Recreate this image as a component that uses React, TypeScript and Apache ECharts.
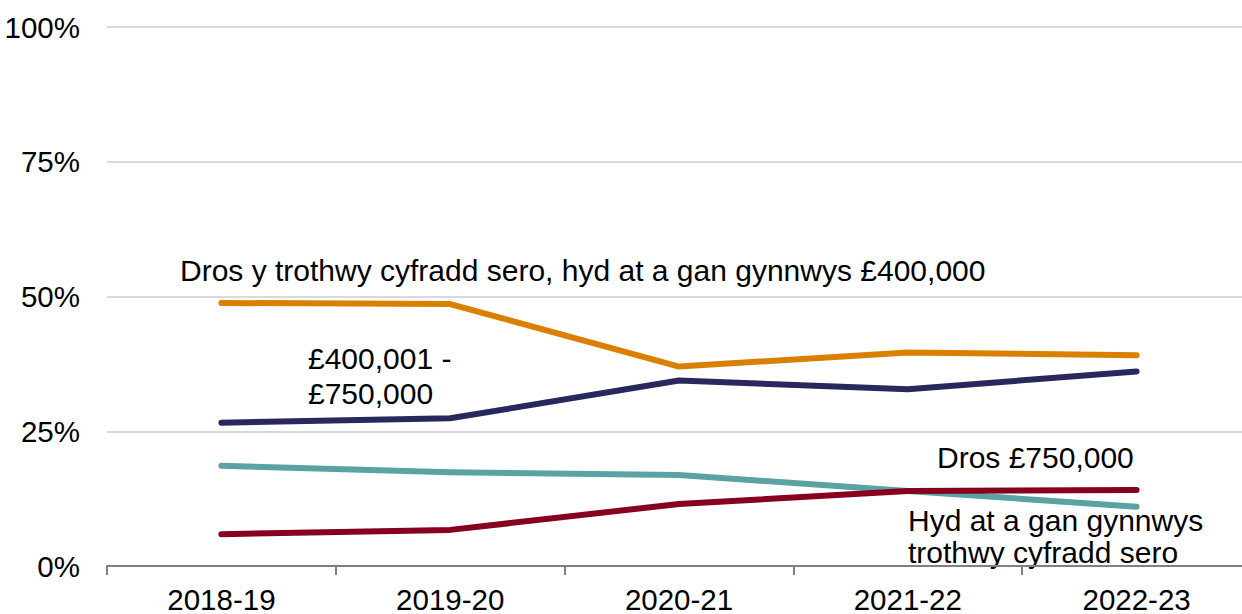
import React, { useEffect, useRef } from "react";
import * as echarts from "echarts";

const categories = ["2018-19", "2019-20", "2020-21", "2021-22", "2022-23"];
const yTicks = [0, 25, 50, 75, 100];
const overThresholdTo400k = [48.8, 48.6, 37.0, 39.6, 39.1];
const from400kTo750k = [26.6, 27.4, 34.4, 32.8, 36.1];
const upToThreshold = [18.6, 17.4, 16.9, 13.9, 11.0];
const over750k = [5.9, 6.7, 11.5, 13.9, 14.1];

const FONT = "'Liberation Sans', Arial, sans-serif";
const FS = 29.5;

export default function App() {
  const ref = useRef<HTMLDivElement>(null);
  useEffect(() => {
    if (!ref.current) return;
    const chart = echarts.init(ref.current, undefined, { renderer: "svg" });
    const mk = (name: string, data: number[], color: string) => ({
      name,
      type: "line",
      data,
      symbol: "none",
      lineStyle: { color, width: 6, cap: "round", join: "round" },
      itemStyle: { color },
    });
    const txt = (x: number, y: number, text: string, lh: number) => ({
      type: "text",
      x,
      y,
      style: {
        text,
        font: `30px ${FONT}`,
        fill: "#000",
        textVerticalAlign: "middle",
        lineHeight: lh,
      },
    });
    chart.setOption({
      animation: false,
      grid: { left: 107, top: 27, width: 1144, height: 540 },
      xAxis: {
        type: "category",
        data: categories,
        boundaryGap: true,
        axisLine: { lineStyle: { color: "#808080", width: 2 } },
        axisTick: { show: true, length: 9, lineStyle: { color: "#808080", width: 2 } },
        axisLabel: { color: "#000", fontSize: FS, fontFamily: FONT, margin: 18 },
        splitLine: { show: false },
      },
      yAxis: {
        type: "value",
        min: yTicks[0],
        max: yTicks[yTicks.length - 1],
        interval: 25,
        axisLine: { show: false },
        axisTick: { show: false },
        axisLabel: {
          color: "#000",
          fontSize: FS,
          fontFamily: FONT,
          margin: 27,
          formatter: "{value}%",
        },
        splitLine: { lineStyle: { color: "#d9d9d9", width: 2 } },
      },
      series: [
        mk("Dros y trothwy cyfradd sero, hyd at a gan gynnwys £400,000", overThresholdTo400k, "#D98000"),
        mk("£400,001 - £750,000", from400kTo750k, "#29285C"),
        mk("Hyd at a gan gynnwys trothwy cyfradd sero", upToThreshold, "#5AA3A2"),
        mk("Dros £750,000", over750k, "#87001E"),
      ],
      graphic: [
        txt(180, 270, "Dros y trothwy cyfradd sero, hyd at a gan gynnwys £400,000", 32),
        txt(308, 376, "£400,001 -\n£750,000", 35),
        txt(937, 457, "Dros £750,000", 32),
        txt(908, 536, "Hyd at a gan gynnwys\ntrothwy cyfradd sero", 32),
      ],
    });
    return () => chart.dispose();
  }, []);
  return (
    <div style={{ position: "absolute", left: 0, top: 0, width: 1242, height: 614, overflow: "hidden" }}>
      <div ref={ref} style={{ width: 1270, height: 614 }} />
    </div>
  );
}
